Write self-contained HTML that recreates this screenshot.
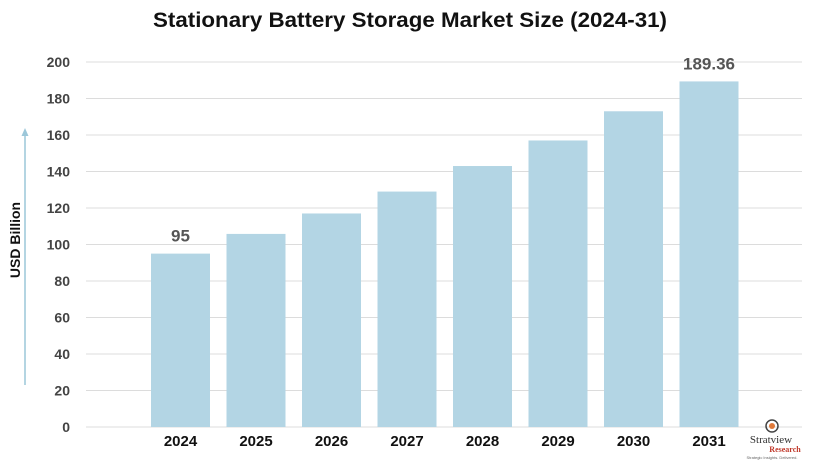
<!DOCTYPE html>
<html><head><meta charset="utf-8"><style>
body{margin:0;background:#fff;width:814px;height:462px;overflow:hidden;font-family:"Liberation Sans",sans-serif}
</style></head><body>
<svg id="chart" width="814" height="462" xmlns="http://www.w3.org/2000/svg">
<text x="410" y="27" text-anchor="middle" font-size="21" font-weight="bold" fill="#111" textLength="514" lengthAdjust="spacingAndGlyphs">Stationary Battery Storage Market Size (2024-31)</text>
<g id="grid"></g><g id="bars"></g><g id="labels"></g>
<line x1="25" y1="385" x2="25" y2="135" stroke="#9cc7d9" stroke-width="1.5"/>
<polygon points="25,128 21.5,136 28.5,136" fill="#9cc7d9"/>
<text transform="translate(20,240) rotate(-90)" text-anchor="middle" font-size="14" font-weight="bold" fill="#111">USD Billion</text>
<g>
<circle cx="772" cy="426" r="6" fill="none" stroke="#444" stroke-width="1.5"/>
<circle cx="772" cy="426" r="3" fill="#e07a3a"/>
<text x="771" y="443" text-anchor="middle" font-family="Liberation Serif" font-size="11" fill="#333">Stratview</text>
<text x="785" y="452" text-anchor="middle" font-family="Liberation Serif" font-size="8" font-weight="bold" fill="#c0392b">Research</text>
<text x="772" y="459" text-anchor="middle" font-size="4" fill="#666">Strategic Insights. Delivered.</text>
</g>
</svg>
<script>
const categories=["2024","2025","2026","2027","2028","2029","2030","2031"];
const values=[95,105.8,117,129,143,157,173,189.36];
const valueLabels=["95","","","","","","","189.36"];
const yTicks=[0,20,40,60,80,100,120,140,160,180,200];
const NS="http://www.w3.org/2000/svg";
const y0=427,y1=62,yMax=200;
const y=v=>y0-(v/yMax)*(y0-y1);
const x=i=>151+i*75.5;
const bw=59;
function mk(tag,attrs,parent){const e=document.createElementNS(NS,tag);for(const k in attrs)e.setAttribute(k,attrs[k]);parent.appendChild(e);return e;}
const grid=document.getElementById('grid'),bars=document.getElementById('bars'),labels=document.getElementById('labels');
yTicks.forEach(t=>{
 const l=mk('line',{x1:86,x2:802,y1:y(t),y2:y(t),stroke:'#dcdcdc','stroke-width':1},grid);
 
 
 const tx=mk('text',{x:70,y:y(t)+5,'text-anchor':'end','font-size':14,'font-weight':'bold',fill:'#444'},grid);
 tx.textContent=t;
 
 
});
categories.forEach((c,i)=>{
 const r=mk('rect',{x:x(i),y:y(values[i]),width:bw,height:y0-y(values[i]),fill:'#b3d5e4'},bars);
 
 
 const t=mk('text',{x:x(i)+bw/2,y:446,'text-anchor':'middle','font-size':15,'font-weight':'bold',fill:'#111'},labels);
 t.textContent=c;
 
 
 if(valueLabels[i]){
  const v=mk('text',{x:x(i)+bw/2,y:y(values[i])-12,'text-anchor':'middle','font-size':17,'font-weight':'bold',fill:'#555'},labels);
  v.textContent=valueLabels[i];
  
  
 }
});
</script>
</body></html>
